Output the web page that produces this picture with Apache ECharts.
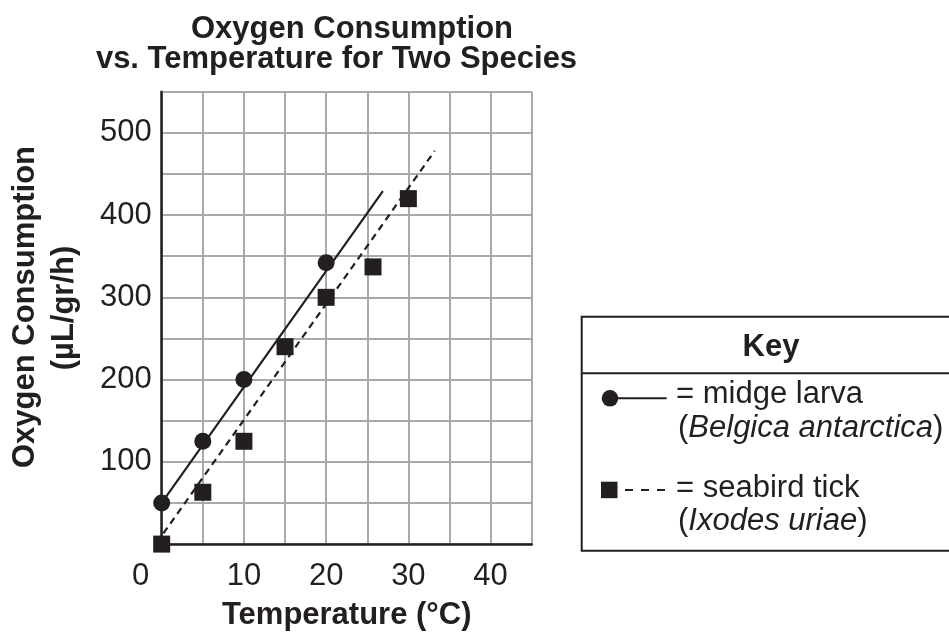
<!DOCTYPE html>
<html>
<head>
<meta charset="utf-8">
<script src="https://cdn.jsdelivr.net/npm/echarts@6/dist/echarts.min.js"></script>
<style>
html,body{margin:0;padding:0;background:#fff;}
#chart{width:949px;height:640px;}
</style>
</head>
<body>
<div id="chart"></div>
<script>
// ---- data ----
const xTickLabels = ['0', '10', '20', '30', '40'];
const yTickLabels = ['100', '200', '300', '400', '500'];
const midgeTemp = [0, 5, 10, 20];
const midgeO2 = [50, 125, 200, 342];
const tickTemp = [0, 5, 10, 15, 20, 25.7, 30];
const tickO2 = [0, 63, 125, 240, 300, 337, 420];
const midgeFitTemp = [0, 26.9];
const midgeFitO2 = [50, 429];
const tickFitTemp = [0.2, 33.2];
const tickFitO2 = [13, 478];

const INK = '#231f20';
const GRID = '#a7a9ac';
const FONT = '"Liberation Sans", Arial, Helvetica, sans-serif';
const FS = 31;

const pairs = (xs, ys) => xs.map((x, i) => [x, ys[i]]);

const chart = echarts.init(document.getElementById('chart'), null, {renderer: 'canvas'});

const option = {
  backgroundColor: '#fff',
  animation: false,
  textStyle: {fontFamily: FONT, color: INK},
  title: [
    {text: 'Oxygen Consumption', left: 347, top: 8.5, textAlign: 'center',
     textStyle: {fontFamily: FONT, fontWeight: 'bold', fontSize: FS, color: INK}},
    {text: 'vs. Temperature for Two Species', left: 331.5, top: 38.5, textAlign: 'center',
     textStyle: {fontFamily: FONT, fontWeight: 'bold', fontSize: FS, color: INK}}
  ],
  grid: {left: 161.7, top: 91.7, width: 370, height: 452.4, containLabel: false},
  xAxis: {
    type: 'value', min: 0, max: 45, interval: 5,
    name: 'Temperature (°C)', nameLocation: 'middle', nameGap: 56,
    nameTextStyle: {fontFamily: FONT, fontWeight: 'bold', fontSize: FS, color: INK, verticalAlign: 'top'},
    axisLine: {show: true, onZero: false, lineStyle: {color: INK, width: 2.5}},
    axisTick: {show: false},
    splitLine: {show: true, lineStyle: {color: GRID, width: 2}},
    axisLabel: {
      margin: 16.5, fontFamily: FONT, fontSize: FS, color: INK,
      formatter: function (v) {
        const s = String(Math.round(v));
        if (xTickLabels.indexOf(s) < 0) return '';
        return s === '0' ? '{z|0}' : s;
      },
      rich: {z: {fontFamily: FONT, fontSize: FS, color: INK, padding: [0, 42, 0, 0]}}
    }
  },
  yAxis: {
    type: 'value', min: 0, max: 550, interval: 50,
    axisLine: {show: true, onZero: false, lineStyle: {color: INK, width: 2.5}},
    axisTick: {show: false},
    splitLine: {show: true, lineStyle: {color: GRID, width: 2}},
    axisLabel: {
      margin: 10, fontFamily: FONT, fontSize: FS, color: INK, padding: [14, 0, 0, 0],
      formatter: function (v) {
        const s = String(Math.round(v));
        return yTickLabels.indexOf(s) >= 0 ? s : '';
      }
    }
  },
  series: [
    {type: 'line', name: 'midge fit', data: pairs(midgeFitTemp, midgeFitO2), showSymbol: false,
     symbol: 'none', clip: false, lineStyle: {color: INK, width: 2.2}, z: 3},
    {type: 'line', name: 'tick fit', data: pairs(tickFitTemp, tickFitO2), showSymbol: false,
     symbol: 'none', clip: false, lineStyle: {color: INK, width: 2.2, type: [7, 5]}, z: 3},
    {type: 'scatter', name: 'midge larva', data: pairs(midgeTemp, midgeO2), symbol: 'circle',
     symbolSize: 17, clip: false, itemStyle: {color: INK, opacity: 1}, z: 4},
    {type: 'scatter', name: 'seabird tick', data: pairs(tickTemp, tickO2), symbol: 'rect',
     symbolSize: 17, clip: false, itemStyle: {color: INK, opacity: 1}, z: 4}
  ],
  graphic: [
    // y-axis name
    {type: 'text', x: 25.5, y: 307, rotation: Math.PI / 2,
     style: {text: 'Oxygen Consumption', font: 'bold ' + FS + 'px ' + FONT, fill: INK, align: 'center', verticalAlign: 'middle'}},
    {type: 'text', x: 64.5, y: 308, rotation: Math.PI / 2,
     style: {text: '(µL/gr/h)', font: 'bold ' + FS + 'px ' + FONT, fill: INK, align: 'center', verticalAlign: 'middle'}},
    // key box
    {type: 'rect', shape: {x: 581.7, y: 316.7, width: 420, height: 234},
     style: {fill: 'none', stroke: INK, lineWidth: 2}},
    {type: 'line', shape: {x1: 581.7, y1: 373.3, x2: 1000, y2: 373.3},
     style: {stroke: INK, lineWidth: 2}},
    {type: 'text', x: 771, y: 347,
     style: {text: 'Key', font: 'bold ' + FS + 'px ' + FONT, fill: INK, align: 'center', verticalAlign: 'middle'}},
    {type: 'line', shape: {x1: 610, y1: 398.3, x2: 666.7, y2: 398.3}, style: {stroke: INK, lineWidth: 2}},
    {type: 'circle', shape: {cx: 610, cy: 398.3, r: 8.3}, style: {fill: INK}},
    {type: 'text', x: 676, y: 394,
     style: {text: '= midge larva', font: FS + 'px ' + FONT, fill: INK, align: 'left', verticalAlign: 'middle'}},
    {type: 'text', x: 678, y: 428.5,
     style: {text: '({i|Belgica antarctica})', font: FS + 'px ' + FONT, fill: INK, align: 'left', verticalAlign: 'middle',
       rich: {i: {font: 'italic ' + FS + 'px ' + FONT, fill: INK}}}},
    {type: 'rect', shape: {x: 601, y: 481.7, width: 16.5, height: 16.5}, style: {fill: INK}},
    {type: 'line', shape: {x1: 625, y1: 490, x2: 667, y2: 490}, style: {stroke: INK, lineWidth: 2, lineDash: [8, 8]}},
    {type: 'text', x: 676, y: 488,
     style: {text: '= seabird tick', font: FS + 'px ' + FONT, fill: INK, align: 'left', verticalAlign: 'middle'}},
    {type: 'text', x: 678, y: 521,
     style: {text: '({i|Ixodes uriae})', font: FS + 'px ' + FONT, fill: INK, align: 'left', verticalAlign: 'middle',
       rich: {i: {font: 'italic ' + FS + 'px ' + FONT, fill: INK}}}}
  ]
};

chart.setOption(option);
</script>
</body>
</html>
